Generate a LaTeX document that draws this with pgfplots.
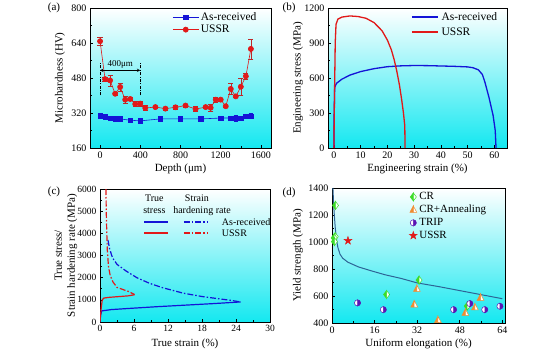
\documentclass[border=0pt]{standalone}
\usepackage{pgfplots}
\pgfplotsset{compat=1.18}
\usepackage{fontspec}
\setmainfont{Liberation Serif}
\definecolor{myblue}{RGB}{20,20,215}
\definecolor{myred}{RGB}{225,25,25}
\definecolor{errred}{RGB}{190,40,40}
\definecolor{bgcyan}{RGB}{20,232,240}
\definecolor{fitblue}{RGB}{45,100,150}
\definecolor{crgreen}{RGB}{60,220,40}
\definecolor{annorange}{RGB}{240,140,50}
\definecolor{trippurple}{RGB}{90,20,180}

\pgfdeclareplotmark{hdiamond}{%
  \pgfpathmoveto{\pgfqpoint{0pt}{1.3\pgfplotmarksize}}%
  \pgfpathlineto{\pgfqpoint{-\pgfplotmarksize}{0pt}}%
  \pgfpathlineto{\pgfqpoint{0pt}{-1.3\pgfplotmarksize}}%
  \pgfpathclose\pgfusepathqfillstroke
  \begin{pgfscope}\pgfsetfillcolor{white}%
  \pgfpathmoveto{\pgfqpoint{0pt}{1.3\pgfplotmarksize}}%
  \pgfpathlineto{\pgfqpoint{\pgfplotmarksize}{0pt}}%
  \pgfpathlineto{\pgfqpoint{0pt}{-1.3\pgfplotmarksize}}%
  \pgfpathclose\pgfusepathqfillstroke\end{pgfscope}}
\pgfdeclareplotmark{htriangle}{%
  \pgfpathmoveto{\pgfqpoint{0pt}{1.2\pgfplotmarksize}}%
  \pgfpathlineto{\pgfqpoint{-\pgfplotmarksize}{-0.7\pgfplotmarksize}}%
  \pgfpathlineto{\pgfqpoint{0pt}{-0.7\pgfplotmarksize}}%
  \pgfpathclose\pgfusepathqfillstroke
  \begin{pgfscope}\pgfsetfillcolor{white}%
  \pgfpathmoveto{\pgfqpoint{0pt}{1.2\pgfplotmarksize}}%
  \pgfpathlineto{\pgfqpoint{\pgfplotmarksize}{-0.7\pgfplotmarksize}}%
  \pgfpathlineto{\pgfqpoint{0pt}{-0.7\pgfplotmarksize}}%
  \pgfpathclose\pgfusepathqfillstroke\end{pgfscope}}
\pgfdeclareplotmark{hcircle}{%
  \pgfpathmoveto{\pgfqpoint{0pt}{-\pgfplotmarksize}}%
  \pgfpatharc{-90}{90}{\pgfplotmarksize}%
  \pgfpathclose\pgfusepathqfillstroke
  \begin{pgfscope}\pgfsetfillcolor{white}%
  \pgfpathmoveto{\pgfqpoint{0pt}{\pgfplotmarksize}}%
  \pgfpatharc{90}{270}{\pgfplotmarksize}%
  \pgfpathclose\pgfusepathqfillstroke\end{pgfscope}}
\pgfdeclareplotmark{fstar}{%
  \pgfpathmoveto{\pgfpointpolar{90}{1.4\pgfplotmarksize}}%
  \pgfpathlineto{\pgfpointpolar{126}{0.55\pgfplotmarksize}}%
  \pgfpathlineto{\pgfpointpolar{162}{1.4\pgfplotmarksize}}%
  \pgfpathlineto{\pgfpointpolar{198}{0.55\pgfplotmarksize}}%
  \pgfpathlineto{\pgfpointpolar{234}{1.4\pgfplotmarksize}}%
  \pgfpathlineto{\pgfpointpolar{270}{0.55\pgfplotmarksize}}%
  \pgfpathlineto{\pgfpointpolar{306}{1.4\pgfplotmarksize}}%
  \pgfpathlineto{\pgfpointpolar{342}{0.55\pgfplotmarksize}}%
  \pgfpathlineto{\pgfpointpolar{18}{1.4\pgfplotmarksize}}%
  \pgfpathlineto{\pgfpointpolar{54}{0.55\pgfplotmarksize}}%
  \pgfpathclose\pgfusepathqfillstroke}

\pgfplotsset{
  panel/.style={
    scale only axis, anchor=south west,
    tick align=inside, tick pos=left,
    axis background/.style={top color=white, bottom color=bgcyan},
    axis line style={line width=0.7pt},
    tick style={line width=0.6pt, black},
    major tick length=3pt, minor tick length=1.7pt,
    tick label style={font=\fontsize{10}{12}\selectfont},
    label style={font=\fontsize{11}{13}\selectfont},
    /pgf/number format/assume math mode=true,
    /pgf/number format/1000 sep={},
    scaled ticks=false,
    legend cell align=left,
    legend style={draw=none, fill=none, font=\fontsize{11.5}{13}\selectfont, row sep=-1pt, inner sep=1pt},
    ylabel style={anchor=center},
    xlabel style={anchor=center},
  },
  longleg/.style={legend image code/.code={\draw[mark repeat=2,mark phase=2,##1] plot coordinates {(0cm,0cm)(0.45cm,0cm)(0.9cm,0cm)};}},
}

\begin{document}
\begin{tikzpicture}
\useasboundingbox (0,0) rectangle (554pt,354pt);

% ---------------- (a)
\begin{axis}[panel, longleg, at={(90pt,206pt)}, width=181pt, height=140pt,
  xmin=-100, xmax=1700, ymin=160, ymax=800,
  xtick={0,400,...,1600}, ytick={160,320,...,800},
  minor x tick num=1, minor y tick num=1,
  xlabel={Depth (μm)}, ylabel={Microhardness (HV)},
  xlabel style={at={(axis description cs:0.5,-0.15)}},
  ylabel style={at={(axis description cs:-0.166,0.5)}},
  legend style={at={(axis description cs:0.45,0.99)}, anchor=north west}]
\addplot[myblue, line width=0.6pt, mark=square*, mark size=2.2pt,
  error bars/.cd, y dir=both, y explicit, error bar style={line width=0.5pt, myblue}]
  coordinates {(0,307)+-(0,6) (50,302)+-(0,5) (100,297)+-(0,8) (150,293)+-(0,5) (200,293)+-(0,9)
  (300,287)+-(0,5) (400,284)+-(0,6) (600,293)+-(0,5) (800,293)+-(0,5) (1000,293)+-(0,5)
  (1200,297)+-(0,6) (1300,297)+-(0,6) (1350,297)+-(0,15) (1400,297)+-(0,5) (1450,305)+-(0,6) (1500,306)+-(0,11)};
\addlegendentry{As-received}
\addplot[myred, line width=0.6pt, mark=*, mark size=2.6pt,
  error bars/.cd, y dir=both, y explicit, error bar style={line width=0.5pt, errred}]
  coordinates {(0,648)+-(0,20) (50,475)+-(0,8) (100,469)+-(0,25) (150,408)+-(0,6) (200,439)+-(0,18)
  (250,381)+-(0,15) (300,384)+-(0,6) (350,361)+-(0,12) (400,363)+-(0,12) (450,343)+-(0,12)
  (550,347)+-(0,6) (650,340)+-(0,6) (750,346)+-(0,10) (850,354)+-(0,6) (950,338)+-(0,12)
  (1050,347)+-(0,6) (1100,344)+-(0,16) (1150,381)+-(0,10) (1200,381)+-(0,6) (1250,351)+-(0,6)
  (1300,430)+-(0,25) (1350,396)+-(0,6) (1400,440)+-(0,40) (1450,488)+-(0,15) (1500,613)+-(0,45)};
\addlegendentry{USSR}
\draw[black, line width=0.5pt, dash pattern=on 3pt off 1.5pt on 0.8pt off 1.5pt] (axis cs:0,400) -- (axis cs:0,550);
\draw[black, line width=0.5pt, dash pattern=on 3pt off 1.5pt on 0.8pt off 1.5pt] (axis cs:400,400) -- (axis cs:400,550);
\draw[black, line width=0.5pt, <->, >=stealth] (axis cs:0,515) -- (axis cs:400,515);
\node[font=\fontsize{9}{10}\selectfont, anchor=south, inner sep=1pt] at (axis cs:200,518) {400μm};
\end{axis}

% ---------------- (b)
\begin{axis}[panel, at={(328pt,206pt)}, width=179pt, height=140pt,
  xmin=-2.2, xmax=64.7, ymin=0, ymax=1200,
  xtick={0,10,...,60}, ytick={0,300,...,1200},
  minor x tick num=1, minor y tick num=1,
  xlabel={Engineering strain (\%)}, ylabel={Engineering stress (MPa)},
  xlabel style={at={(axis description cs:0.5,-0.15)}},
  ylabel style={at={(axis description cs:-0.168,0.5)}}]
\addplot[myblue, line width=1.3pt] coordinates {(0,0) (0.1,300) (0.3,520) (1,555) (3,590) (6,625) (10,655) (15,680) (20,697) (25,704) (30,707) (35,706) (40,703) (45,700) (50,695) (52,688) (54,670) (55.5,630) (56.5,560) (58,430) (59.5,280) (60.3,150) (60.6,0)};
\addplot[myred, line width=1.3pt] coordinates {(0,0) (0.2,400) (0.5,900) (0.8,1060) (1.5,1105) (3,1122) (6,1132) (9,1127) (12,1112) (15,1075) (18,1005) (20,925) (21.5,840) (22.5,760) (23.5,660) (24.5,540) (25.3,420) (26,300) (26.5,190) (26.6,0)};
\draw[myblue, line width=1.3pt] (axis description cs:0.469,0.936) -- (axis description cs:0.615,0.936);
\node[anchor=west, font=\fontsize{11.5}{13}\selectfont, inner sep=1pt] at (axis description cs:0.628,0.936) {As-received};
\draw[myred, line width=1.3pt] (axis description cs:0.469,0.829) -- (axis description cs:0.615,0.829);
\node[anchor=west, font=\fontsize{11.5}{13}\selectfont, inner sep=1pt] at (axis description cs:0.628,0.829) {USSR};
\end{axis}

% ---------------- (c)
\begin{axis}[panel, at={(100pt,32pt)}, width=170pt, height=133pt,
  xmin=0, xmax=30, ymin=0, ymax=6000,
  xtick={0,6,...,30}, ytick={0,1000,...,6000},
  minor x tick num=1, minor y tick num=1,
  tick label style={font=\fontsize{9.5}{11}\selectfont},
  xlabel={True strain (\%)}, ylabel={True stress/\\Strain hardening rate (MPa)},
  xlabel style={at={(axis description cs:0.5,-0.165)}},
  ylabel style={at={(axis description cs:-0.2,0.5)}, align=center}]
\addplot[myblue, line width=1.2pt] coordinates {(0,0) (0.1,300) (0.3,500) (2,560) (5,610) (10,690) (15,760) (20,830) (24.8,905)};
\addplot[myblue, line width=1.2pt, dash pattern=on 6pt off 2pt on 1.5pt off 2pt] coordinates {(1.4,3700) (1.7,3300) (2.2,2900) (3,2600) (4.6,2300) (6.5,2000) (8.7,1750) (11,1550) (14.7,1300) (18,1150) (20.6,1060) (23,980) (24.8,905)};
\addplot[myred, line width=1.2pt] coordinates {(0,0) (0.2,600) (0.4,1000) (0.7,1080) (1.5,1110) (3,1140) (5,1180) (6.1,1230)};
\addplot[myred, line width=1.2pt, dash pattern=on 6pt off 2pt on 1.5pt off 2pt] coordinates {(1.05,6000) (1.1,5000) (1.2,4000) (1.3,3200) (1.5,2500) (1.8,2100) (2.3,1800) (3,1560) (4,1470) (5,1380) (6.1,1240)};
\node[font=\fontsize{10}{11}\selectfont] at (axis cs:9.6,5594) {True};
\node[font=\fontsize{10}{11}\selectfont] at (axis cs:9.6,5008) {stress};
\node[font=\fontsize{10}{11}\selectfont] at (axis cs:17.1,5594) {Strain};
\node[font=\fontsize{10}{11}\selectfont] at (axis cs:18.0,5008) {hardening rate};
\draw[myblue, line width=1.2pt] (axis cs:7.8,4511) -- (axis cs:12,4511);
\draw[myblue, line width=1.2pt, dash pattern=on 6pt off 2pt on 1.5pt off 2pt] (axis cs:14.8,4511) -- (axis cs:19.1,4511);
\node[font=\fontsize{10}{11}\selectfont, anchor=west] at (axis cs:20.9,4511) {As-received};
\draw[myred, line width=1.2pt] (axis cs:7.8,4015) -- (axis cs:12,4015);
\draw[myred, line width=1.2pt, dash pattern=on 6pt off 2pt on 1.5pt off 2pt] (axis cs:14.8,4015) -- (axis cs:19.1,4015);
\node[font=\fontsize{10}{11}\selectfont, anchor=west] at (axis cs:20.9,4015) {USSR};
\end{axis}

% ---------------- (d)
\begin{axis}[panel, at={(332pt,31pt)}, width=173pt, height=135pt, clip=false,
  xmin=0, xmax=65, ymin=400, ymax=1400,
  xtick={0,16,...,64}, ytick={400,600,...,1400},
  minor x tick num=1, minor y tick num=1,
  xlabel={Uniform elongation (\%)}, ylabel={Yield strength (MPa)},
  xlabel style={at={(axis description cs:0.5,-0.156)}},
  ylabel style={at={(axis description cs:-0.197,0.5)}},
  legend style={at={(axis description cs:0.44,0.99)}, anchor=north west, font=\fontsize{11}{13}\selectfont, row sep=0pt}]
\addplot[fitblue, line width=1pt, forget plot] coordinates {(0.35,1400) (0.5,1330) (0.8,1220) (1.2,1110) (1.6,1030) (2.2,960) (3,910) (4,880) (6,850) (10,815) (15,785) (20,757) (26,730) (32,697) (40,670) (48,640) (56,610) (64,580)};
\addplot[only marks, mark=hdiamond, mark size=3.1pt, draw=crgreen, fill=crgreen, line width=0.5pt] coordinates {(1.3,1271) (1.2,1040) (0.8,1030) (0.9,1003) (32.7,718) (20.5,611) (50.8,525)};
\addlegendentry{CR}
\addplot[only marks, mark=htriangle, mark size=3.4pt, draw=annorange, fill=annorange, line width=0.5pt] coordinates {(31.9,651) (30.9,536) (39.8,420) (50.1,474) (53.7,514) (55.8,586)};
\addlegendentry{CR+Annealing}
\addplot[only marks, mark=hcircle, mark size=3.1pt, draw=trippurple, fill=trippurple, line width=0.5pt] coordinates {(9.6,549) (19.3,499) (45.7,499) (51.8,544) (57.4,499) (63.1,524)};
\addlegendentry{TRIP}
\addplot[only marks, mark=fstar, mark size=3pt, draw=myred, fill=myred, line width=0.4pt] coordinates {(6.0,1010)};
\addlegendentry{USSR}
\end{axis}

\node[font=\fontsize{11}{13}\selectfont] at (54pt,346pt) {(a)};
\node[font=\fontsize{11}{13}\selectfont] at (289pt,346pt) {(b)};
\node[font=\fontsize{11}{13}\selectfont] at (54pt,162pt) {(c)};
\node[font=\fontsize{11}{13}\selectfont] at (289pt,161pt) {(d)};
\end{tikzpicture}
\end{document}
